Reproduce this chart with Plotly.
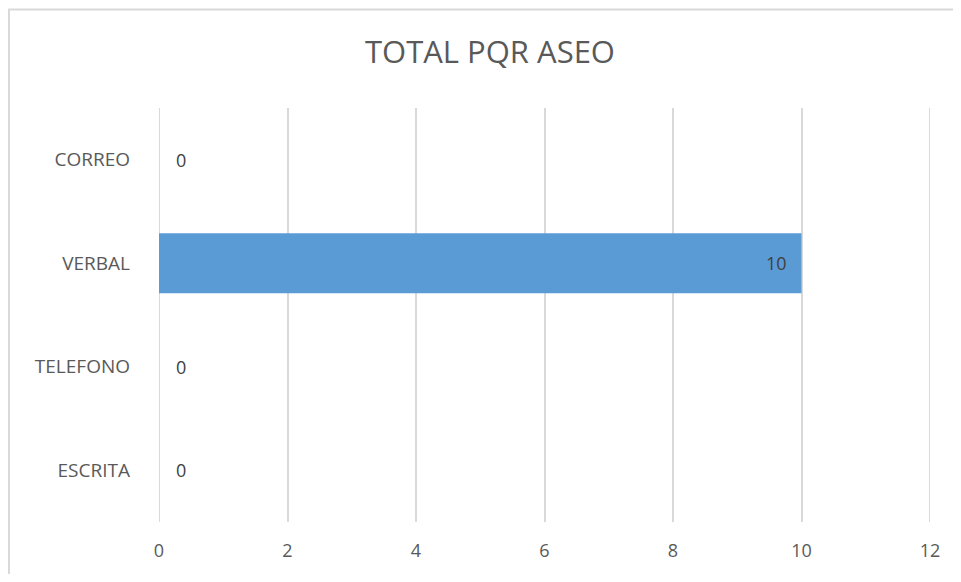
import plotly.graph_objects as go

categories = ["ESCRITA", "TELEFONO", "VERBAL", "CORREO"]
values = [0, 0, 10, 0]
x_ticks = [0, 2, 4, 6, 8, 10, 12]

# page body has an 8px margin on each side, so the figure is sized to fit inside it
W, H = 945, 566
L, R, T, B = 151, 23, 100, 50
PW, PH = W - L - R, H - T - B
GRID = "#D9D9D9"

fig = go.Figure()
fig.add_trace(go.Bar(
    y=categories, x=values, orientation="h",
    marker=dict(color="#5B9BD5", line=dict(width=0)),
    width=0.58,
    hoverinfo="skip",
))

annotations = []
for c, v in zip(categories, values):
    if v == 0:
        annotations.append(dict(x=v, y=c, xref="x", yref="y", text=str(v), showarrow=False,
                                xanchor="left", xshift=15,
                                font=dict(family="Open Sans", size=18, color="#404040")))
    else:
        annotations.append(dict(x=v, y=c, xref="x", yref="y", text=str(v), showarrow=False,
                                xanchor="right", xshift=-13,
                                font=dict(family="Open Sans", size=18, color="#404040")))

shapes = [
    dict(type="line", xref="paper", yref="paper", x0=(0 - L) / PW, x1=1.2,
         y0=1 + (T - 1) / PH, y1=1 + (T - 1) / PH, line=dict(color=GRID, width=2)),
    dict(type="line", xref="paper", yref="paper", x0=(1 - L) / PW, x1=(1 - L) / PW,
         y0=-B / PH - 0.1, y1=1 + (T - 1) / PH, line=dict(color=GRID, width=2)),
]
# gridlines at the ends of the range (plotly omits them)
for t in (x_ticks[0], x_ticks[-1]):
    shapes.append(dict(type="line", xref="x", yref="paper", x0=t, x1=t, y0=0, y1=1,
                       line=dict(color=GRID, width=2), layer="below"))

fig.update_layout(
    width=W, height=H,
    margin=dict(l=L, r=R, t=T, b=B, pad=0),
    paper_bgcolor="white", plot_bgcolor="white",
    showlegend=False,
    title=dict(text="TOTAL PQR ASEO", x=482 / W, xanchor="center", y=1 - 44 / H, yanchor="middle",
               font=dict(family="Open Sans", size=31, color="#595959")),
    xaxis=dict(range=[0, 12], tickvals=x_ticks, showgrid=True, gridcolor=GRID, gridwidth=2,
               zeroline=False, showline=False, ticks="", ticklabelstandoff=16,
               tickfont=dict(family="Open Sans", size=18, color="#595959")),
    yaxis=dict(categoryorder="array", categoryarray=categories, showgrid=False, zeroline=False,
               showline=False, ticks="", ticklabelstandoff=28,
               tickfont=dict(family="Open Sans", size=19, color="#595959")),
    annotations=annotations,
    shapes=shapes,
)

fig.write_html("out.html")
